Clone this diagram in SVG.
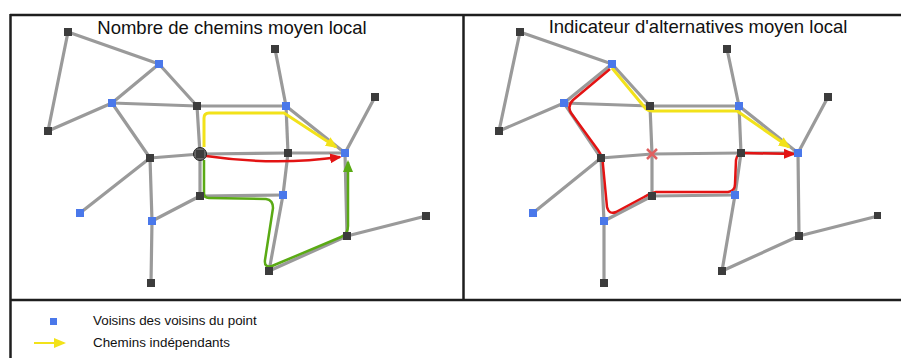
<svg xmlns="http://www.w3.org/2000/svg" width="901" height="358" viewBox="0 0 901 358">
<style>
.frame{stroke:#1e1e1e;stroke-width:2.5;fill:none}
.e{stroke:#9a9a9a;stroke-width:3.2;fill:none;stroke-linecap:round}
.d{fill:#3c3c3c}
.b{fill:#4a78ea}
.t{font-family:"Liberation Sans",Arial,sans-serif;fill:#111}
.yel{stroke:#f2e21a;stroke-width:3;fill:none;stroke-linejoin:round}
.red{stroke:#e31313;stroke-width:2.5;fill:none;stroke-linejoin:round}
.grn{stroke:#5aaa14;stroke-width:2.5;fill:none;stroke-linejoin:round}
</style>
<defs>
<marker id="ay" markerUnits="userSpaceOnUse" markerWidth="12" markerHeight="10" refX="10" refY="5" orient="auto"><path d="M0,0 L12,5 L0,10 z" fill="#f2e21a"/></marker>
<marker id="ar" markerUnits="userSpaceOnUse" markerWidth="12" markerHeight="10" refX="10" refY="5" orient="auto"><path d="M0,0 L12,5 L0,10 z" fill="#e31313"/></marker>
<marker id="ag" markerUnits="userSpaceOnUse" markerWidth="12" markerHeight="10" refX="10" refY="5" orient="auto"><path d="M0,0 L12,5 L0,10 z" fill="#5aaa14"/></marker>
</defs>
<rect width="901" height="358" fill="#fff"/>
<g id="frame">
<line class="frame" x1="10" y1="15" x2="901" y2="15"/>
<line class="frame" x1="10" y1="300" x2="901" y2="300"/>
<line class="frame" x1="10.5" y1="14" x2="10.5" y2="358"/>
<line class="frame" x1="463.5" y1="15" x2="463.5" y2="300"/>
</g>
<text class="t" x="232" y="34" font-size="18.5" text-anchor="middle">Nombre de chemins moyen local</text>
<text class="t" x="698" y="33" font-size="18.5" text-anchor="middle">Indicateur d'alternatives moyen local</text>
<g id="connectors-left">
<line class="e" x1="68" y1="32" x2="159" y2="64"/>
<line class="e" x1="68" y1="32" x2="48" y2="131"/>
<line class="e" x1="48" y1="131" x2="112" y2="103"/>
<line class="e" x1="112" y1="103" x2="159" y2="64"/>
<line class="e" x1="159" y1="64" x2="197" y2="106"/>
<line class="e" x1="112" y1="103" x2="197" y2="106"/>
<line class="e" x1="112" y1="103" x2="150" y2="158"/>
<line class="e" x1="197" y1="106" x2="286" y2="106"/>
<line class="e" x1="275" y1="49" x2="286" y2="106"/>
<line class="e" x1="286" y1="106" x2="288" y2="153"/>
<line class="e" x1="286" y1="106" x2="345" y2="153"/>
<line class="e" x1="375" y1="97" x2="345" y2="153"/>
<line class="e" x1="197" y1="106" x2="200" y2="154"/>
<line class="e" x1="150" y1="158" x2="200" y2="154"/>
<line class="e" x1="200" y1="154" x2="288" y2="153"/>
<line class="e" x1="288" y1="153" x2="345" y2="153"/>
<line class="e" x1="200" y1="154" x2="200" y2="196"/>
<line class="e" x1="200" y1="196" x2="283" y2="195"/>
<line class="e" x1="288" y1="153" x2="283" y2="195"/>
<line class="e" x1="283" y1="195" x2="269" y2="271"/>
<line class="e" x1="150" y1="158" x2="152" y2="221"/>
<line class="e" x1="152" y1="221" x2="151" y2="283"/>
<line class="e" x1="80" y1="213" x2="150" y2="158"/>
<line class="e" x1="152" y1="221" x2="200" y2="196"/>
<line class="e" x1="269" y1="271" x2="347" y2="236"/>
<line class="e" x1="347" y1="236" x2="426" y2="216"/>
<line class="e" x1="345" y1="153" x2="347" y2="236"/>
<path class="yel" d="M204,147 L204,118 Q204,113 209,113 L284,113 L336,147" marker-end="url(#ay)"/>
<path class="red" d="M206,156 Q275,166 340,157" marker-end="url(#ar)"/>
<path class="grn" d="M204,160 L204,193 Q204,198 209,198 L266,199 Q273,200 273,208 L265,260 Q264,268 272,266 L341,237 Q348,234 348,226 L348,162" marker-end="url(#ag)"/>
</g>
<g id="connectors-right">
<line class="e" x1="520" y1="32" x2="612" y2="64"/>
<line class="e" x1="520" y1="32" x2="499" y2="131"/>
<line class="e" x1="499" y1="131" x2="564" y2="103"/>
<line class="e" x1="564" y1="103" x2="612" y2="64"/>
<line class="e" x1="612" y1="64" x2="650" y2="106"/>
<line class="e" x1="564" y1="103" x2="650" y2="106"/>
<line class="e" x1="564" y1="103" x2="601" y2="158"/>
<line class="e" x1="650" y1="106" x2="739" y2="106"/>
<line class="e" x1="727" y1="49" x2="739" y2="106"/>
<line class="e" x1="739" y1="106" x2="741" y2="153"/>
<line class="e" x1="739" y1="106" x2="798" y2="153"/>
<line class="e" x1="828" y1="97" x2="798" y2="153"/>
<line class="e" x1="650" y1="106" x2="652" y2="154"/>
<line class="e" x1="601" y1="158" x2="652" y2="154"/>
<line class="e" x1="652" y1="154" x2="741" y2="153"/>
<line class="e" x1="741" y1="153" x2="798" y2="153"/>
<line class="e" x1="652" y1="154" x2="652" y2="196"/>
<line class="e" x1="652" y1="196" x2="735" y2="195"/>
<line class="e" x1="741" y1="153" x2="735" y2="195"/>
<line class="e" x1="735" y1="195" x2="722" y2="271"/>
<line class="e" x1="601" y1="158" x2="604" y2="221"/>
<line class="e" x1="604" y1="221" x2="604" y2="283"/>
<line class="e" x1="533" y1="213" x2="601" y2="158"/>
<line class="e" x1="604" y1="221" x2="652" y2="196"/>
<line class="e" x1="722" y1="271" x2="799" y2="236"/>
<line class="e" x1="799" y1="236" x2="878" y2="216"/>
<line class="e" x1="798" y1="153" x2="799" y2="236"/>
<path class="yel" d="M612,68 L646,109 Q648,111 652,111 L737,111 L789,147" marker-end="url(#ay)"/>
<path class="red" d="M610,69 L573,100 Q567,106 571,113 L598,150 Q603,157 603,165 L607,207 Q609,215 616,212 L644,197 Q650,193 656,192 L728,192 Q735,191 735,184 L736,160 Q737,153 744,153 L794,154" marker-end="url(#ar)"/>
</g>
<g id="l-A"><rect class="d" x="64" y="28" width="8" height="8"/></g>
<g id="l-B"><rect class="b" x="155" y="60" width="8" height="8"/></g>
<g id="l-C"><rect class="b" x="108" y="99" width="8" height="8"/></g>
<g id="l-D"><rect class="d" x="44" y="127" width="8" height="8"/></g>
<g id="l-E"><rect class="d" x="193" y="102" width="8" height="8"/></g>
<g id="l-F"><rect class="b" x="282" y="102" width="8" height="8"/></g>
<g id="l-G"><rect class="d" x="271" y="45" width="8" height="8"/></g>
<g id="l-H"><rect class="d" x="371" y="93" width="8" height="8"/></g>
<g id="l-I"><rect class="b" x="341" y="149" width="8" height="8"/></g>
<g id="l-J"><circle cx="200" cy="154" r="6.5" fill="#666" stroke="#222" stroke-width="1"/><rect class="d" x="196" y="150" width="8" height="8"/></g>
<g id="l-K"><rect class="d" x="284" y="149" width="8" height="8"/></g>
<g id="l-L"><rect class="d" x="146" y="154" width="8" height="8"/></g>
<g id="l-M"><rect class="b" x="76" y="209" width="8" height="8"/></g>
<g id="l-N"><rect class="b" x="148" y="217" width="8" height="8"/></g>
<g id="l-O"><rect class="d" x="196" y="192" width="8" height="8"/></g>
<g id="l-P"><rect class="b" x="279" y="191" width="8" height="8"/></g>
<g id="l-Q"><rect class="d" x="147" y="279" width="8" height="8"/></g>
<g id="l-R"><rect class="d" x="265" y="267" width="8" height="8"/></g>
<g id="l-S"><rect class="d" x="343" y="232" width="8" height="8"/></g>
<g id="l-T"><rect class="d" x="422" y="212" width="8" height="8"/></g>
<g id="r-A"><rect class="d" x="516" y="28" width="8" height="8"/></g>
<g id="r-B"><rect class="b" x="608" y="60" width="8" height="8"/></g>
<g id="r-C"><rect class="b" x="560" y="99" width="8" height="8"/></g>
<g id="r-D"><rect class="d" x="495" y="127" width="8" height="8"/></g>
<g id="r-E"><rect class="d" x="646" y="102" width="8" height="8"/></g>
<g id="r-F"><rect class="b" x="735" y="102" width="8" height="8"/></g>
<g id="r-G"><rect class="d" x="723" y="45" width="8" height="8"/></g>
<g id="r-H"><rect class="d" x="824" y="93" width="8" height="8"/></g>
<g id="r-I"><rect class="b" x="794" y="149" width="8" height="8"/></g>
<g id="r-J"><path d="M647,149 L657,159 M657,149 L647,159" stroke="#e06060" stroke-width="2.5" fill="none"/></g>
<g id="r-K"><rect class="d" x="737" y="149" width="8" height="8"/></g>
<g id="r-L"><rect class="d" x="597" y="154" width="8" height="8"/></g>
<g id="r-M"><rect class="b" x="529" y="209" width="8" height="8"/></g>
<g id="r-N"><rect class="b" x="600" y="217" width="8" height="8"/></g>
<g id="r-O"><rect class="d" x="648" y="192" width="8" height="8"/></g>
<g id="r-P"><rect class="b" x="731" y="191" width="8" height="8"/></g>
<g id="r-Q"><rect class="d" x="600" y="279" width="8" height="8"/></g>
<g id="r-R"><rect class="d" x="718" y="267" width="8" height="8"/></g>
<g id="r-S"><rect class="d" x="795" y="232" width="8" height="8"/></g>
<g id="r-T"><rect class="d" x="874" y="212" width="7" height="7"/></g>
<g id="legend">
<rect class="b" x="50" y="318" width="7" height="7"/>
<text class="t" x="93" y="325" font-size="13.4">Voisins des voisins du point</text>
<line x1="34" y1="343" x2="64" y2="343" stroke="#f2e21a" stroke-width="2" marker-end="url(#ay)"/>
<text class="t" x="93" y="347" font-size="13.4">Chemins indépendants</text>
</g>
</svg>
